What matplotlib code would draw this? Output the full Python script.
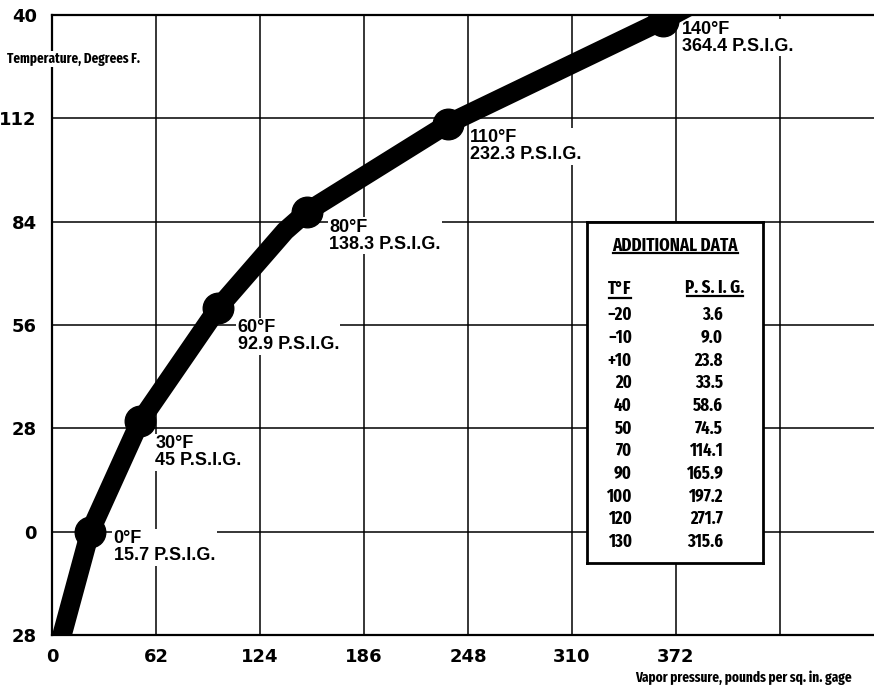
import numpy as np
import matplotlib.pyplot as plt
from matplotlib import font_manager
from matplotlib.font_manager import FontProperties

# vapour pressure curve as drawn (psig, deg F)
curve_psig = [3.6, 22.7, 52.5, 99.0, 139.0, 152.0, 236.0, 364.0, 395.0]
curve_temp = [-32.0, 0.0, 29.9, 60.6, 81.5, 86.7, 110.5, 138.5, 146.0]

# labelled points on the curve
point_psig = [22.7, 52.5, 99.0, 152.0, 236.0, 364.0]
point_temp = [0.0, 29.9, 60.6, 86.7, 110.5, 138.5]
point_labels = ['0°F\n15.7 P.S.I.G.', '30°F\n45 P.S.I.G.', '60°F\n92.9 P.S.I.G.',
                '80°F\n138.3 P.S.I.G.', '110°F\n232.3 P.S.I.G.', '140°F\n364.4 P.S.I.G.']

x_ticks = [0, 62, 124, 186, 248, 310, 372]
y_ticks = [-28, 0, 28, 56, 84, 112, 140]
y_ticklabels = ['28', '0', '28', '56', '84', '112', '40']

# "additional data" table
table_temp = ['\u221220', '\u221210', '+10', '20', '40', '50', '70', '90', '100', '120', '130']
table_psig = ['3.6', '9.0', '23.8', '33.5', '58.6', '74.5', '114.1', '165.9', '197.2', '271.7', '315.6']

# pick the narrowest bold face available
names = {f.name for f in font_manager.fontManager.ttflist}
sans = 'Liberation Sans' if 'Liberation Sans' in names else 'DejaVu Sans'


def rank(f):
    fn = f.fname.lower()
    if 'extracondensed' in fn:
        return 0
    if 'narrow' in fn:
        return 1
    if 'condensed' in fn and 'semi' not in fn:
        return 2
    return 3


cond = [f for f in font_manager.fontManager.ttflist
        if (f.stretch != 'normal' or 'narrow' in f.fname.lower() or 'condensed' in f.fname.lower())
        and f.weight in ('bold', 700) and f.style == 'normal']
cond.sort(key=rank)
cond_file = cond[0].fname if cond else None


def nfont(size):
    if cond_file:
        return FontProperties(fname=cond_file, size=size)
    return FontProperties(family=sans, weight='bold', size=size)


tick_font = FontProperties(family='DejaVu Sans', weight='bold', size=13)
label_font = FontProperties(family=sans, weight='bold', size=13)

W, H = 874, 692
fig = plt.figure(figsize=(W / 100, H / 100), dpi=100)
renderer = fig.canvas.get_renderer()


def fit(s, target):
    # font size that makes string s about target pixels wide
    t = fig.text(0, 0, s, fontproperties=nfont(10))
    w = t.get_window_extent(renderer).width
    t.remove()
    return 10 * target / w


ax = fig.add_axes([52 / W, 1 - 635 / H, 1 - 52 / W, 620 / H])

ax.set_xlim(0, 490)
ax.set_ylim(-28, 140)

for xv in np.arange(62, 490, 62):
    ax.axvline(xv, color='black', lw=1.1, zorder=1)
for yv in np.arange(0, 140, 28):
    ax.axhline(yv, color='black', lw=1.1, zorder=1)

ax.plot(curve_psig, curve_temp, color='black', lw=14,
        solid_joinstyle='round', solid_capstyle='butt', zorder=5)
ax.plot(point_psig, point_temp, 'o', color='black', ms=22, zorder=5)

# label offsets (points) from each marker
offsets = [(17, 1), (11, -10), (14, -8), (16, -5), (16, -4), (14, 0)]
for px, ty, lab, off in zip(point_psig, point_temp, point_labels, offsets):
    ax.annotate(lab, (px, ty), xytext=off, textcoords='offset points',
                ha='left', va='top', fontproperties=label_font,
                linespacing=1.0, zorder=4,
                bbox=dict(facecolor='white', edgecolor='none', pad=1))

ax.set_xticks(x_ticks)
ax.set_xticklabels([str(v) for v in x_ticks], fontproperties=tick_font)
ax.set_yticks(y_ticks)
ax.set_yticklabels(y_ticklabels, fontproperties=tick_font)
ax.tick_params(length=0, pad=9)
ax.tick_params(axis='y', pad=11)

ax.spines['right'].set_visible(False)
for s in ['left', 'bottom', 'top']:
    ax.spines[s].set_linewidth(1.6)

fig.text(7 / W, 1 - 59 / H, 'Temperature, Degrees F.', ha='left', va='center',
         fontproperties=nfont(fit('Temperature, Degrees F.', 133)), zorder=10,
         bbox=dict(facecolor='white', edgecolor='none', pad=1))
fig.text(635 / W, 1 - 678 / H, 'Vapor pressure, pounds per sq. in. gage', ha='left', va='center',
         fontproperties=nfont(fit('Vapor pressure, pounds per sq. in. gage', 218)))

# table box
tb = fig.add_axes([587 / W, 1 - 563 / H, 176 / W, 341 / H])
tb.set_xlim(0, 176)
tb.set_ylim(341, 0)
tb.set_xticks([])
tb.set_yticks([])
tb.set_facecolor('white')
for s in tb.spines.values():
    s.set_linewidth(2.0)

head = fit('ADDITIONAL DATA', 125)
tb.text(88, 24, 'ADDITIONAL DATA', ha='center', va='center', fontproperties=nfont(head))
tb.plot([26, 151], [31, 31], color='black', lw=1.6)
tb.text(33, 67, 'T°F', ha='center', va='center', fontproperties=nfont(head))
tb.plot([22, 44], [76, 76], color='black', lw=1.6)
tb.text(128, 66, 'P. S. I. G.', ha='center', va='center', fontproperties=nfont(head))
tb.plot([100, 156], [74, 74], color='black', lw=1.6)

row = min(fit('197.2', 36), 13)
for i, (tt, pp) in enumerate(zip(table_temp, table_psig)):
    yy = 93 + 22.7 * i
    tb.text(45, yy, tt, ha='right', va='center', fontproperties=nfont(row))
    tb.text(136, yy, pp, ha='right', va='center', fontproperties=nfont(row))

fig.savefig('out.png', dpi=100, facecolor='white')
